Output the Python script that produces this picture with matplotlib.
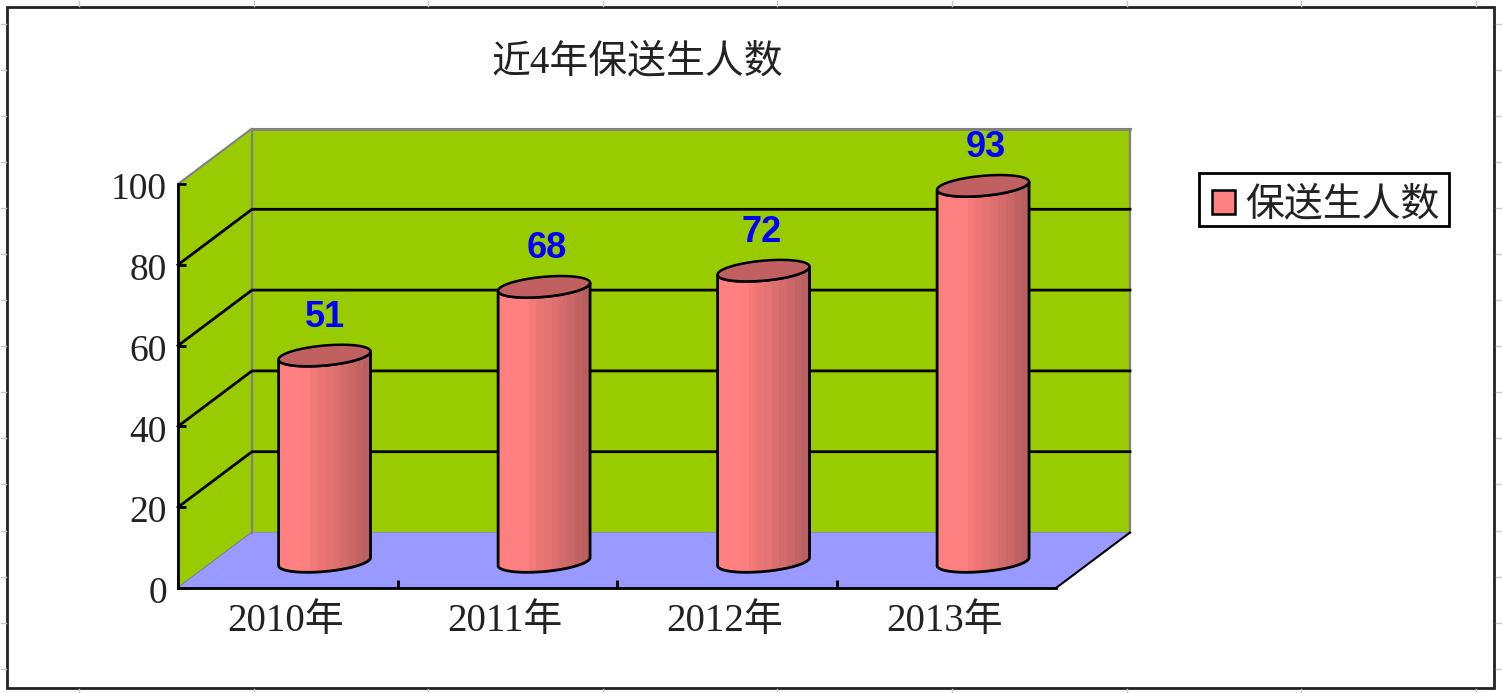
import numpy as np
import matplotlib
matplotlib.use("Agg")
import matplotlib.pyplot as plt
from matplotlib.patches import Polygon, Patch, Rectangle
from matplotlib.colors import LinearSegmentedColormap
from matplotlib.lines import Line2D
from matplotlib.transforms import ScaledTranslation

plt.rcParams['font.family'] = ['Liberation Serif', 'Noto Sans CJK SC', 'DejaVu Sans']

years = ["2010年", "2011年", "2012年", "2013年"]
students = [51, 68, 72, 93]
y_ticks = [0, 20, 40, 60, 80, 100]
title = "近4年保送生人数"
series_name = "保送生人数"

W, H = 1502, 693

fig = plt.figure(figsize=(W / 100, H / 100), dpi=100, facecolor="white")

# front plane of the fake 3d box, in pixels
left, right, top, bottom = 178, 1056, 184, 588
ax = fig.add_axes([left / W, 1 - bottom / H, (right - left) / W, (bottom - top) / H])
ax.set_xlim(0, len(years))
ax.set_ylim(0, 100)
ax.patch.set_visible(False)
for s in ['top', 'right']:
    ax.spines[s].set_visible(False)
for s in ['left', 'bottom']:
    ax.spines[s].set_linewidth(2)
    ax.spines[s].set_zorder(6)

n = len(years)
px_x = (right - left) / n
px_y = (bottom - top) / 100

# depth of the box in data units
dx = 74 / px_x
dy = 55.5 / px_y

ax.add_patch(Polygon([(dx, dy), (n + dx, dy), (n + dx, 100 + dy), (dx, 100 + dy)], closed=True,
                     facecolor="#99CC00", edgecolor="#808080", lw=1.5, clip_on=False, zorder=1))
ax.add_patch(Polygon([(0, 0), (dx, dy), (dx, 100 + dy), (0, 100)], closed=True,
                     facecolor="#99CC00", edgecolor="#808080", lw=1.5, clip_on=False, zorder=1))
ax.add_patch(Polygon([(0, 0), (n, 0), (n + dx, dy), (dx, dy)], closed=True,
                     facecolor="#9999FF", edgecolor="none", clip_on=False, zorder=1.5))
ax.plot([dx, dx], [dy, 100 + dy], color="#808080", lw=1.5, clip_on=False, zorder=2)
ax.plot([n + dx, n + dx], [dy, 100 + dy], color="#808080", lw=1.5, clip_on=False, zorder=2)
ax.plot([dx, n + dx], [100 + dy, 100 + dy], color="#808080", lw=2, clip_on=False, zorder=2)
ax.plot([n, n + dx], [0, dy], color="black", lw=1.5, clip_on=False, zorder=2)

# gridlines go along the side wall and then across the back
for v in y_ticks[1:-1]:
    ax.plot([0, dx, n + dx], [v, v + dy, v + dy], color="black", lw=2, clip_on=False, zorder=2)

# cylinders
cmap = LinearSegmentedColormap.from_list("bar", ["#FF8080", "#FF8080", "#E97575", "#D26B6B", "#B85F5F"])
bar_w = 92 / px_x
shift = 36.8 / px_x
base = 6.55
ell_b = 10 / px_y
ell_s = 4 / px_y
t = np.linspace(0, 2 * np.pi, 121)
label_nudge = [0, 3, -2, 3]  # pixels, the labels are not quite centred in the original

for i, v in enumerate(students):
    cx = i + 0.5 + shift
    ex = cx + bar_w / 2 * np.cos(t)
    ey = ell_b * np.sin(t) + ell_s * np.cos(t)
    mask = np.sin(t) <= 0
    # body outline: lower half of base ellipse, then up and across the top
    order = np.argsort(ex[mask])
    low_x, low_y = ex[mask][order], ey[mask][order] + base
    up_x = low_x[::-1]
    up_y = low_y[::-1] + v
    body = Polygon(np.column_stack([np.r_[low_x, up_x], np.r_[low_y, up_y]]), closed=True,
                   facecolor="none", edgecolor="black", lw=2, clip_on=False, zorder=4)
    ax.add_patch(body)
    im = ax.imshow(np.linspace(0, 1, 12).reshape(1, -1), cmap=cmap, aspect='auto', interpolation='nearest',
                   extent=[cx - bar_w / 2, cx + bar_w / 2, 0, v + base + 5], zorder=3)
    clip = Polygon(body.get_xy(), closed=True, transform=ax.transData)
    im.set_clip_path(clip)
    ax.add_patch(Polygon(np.column_stack([ex, ey + base + v]), closed=True, facecolor="#C06060",
                         edgecolor="black", lw=1.8, clip_on=False, zorder=5))
    ax.text(cx + label_nudge[i] / px_x, v + base + 9.4, str(v), color="#0000FF", fontsize=26, fontweight='bold',
            family=['Liberation Sans'], ha='center', va='center', zorder=6)

ax.set_xlim(0, n)
ax.set_ylim(0, 100)

ax.set_xticks(range(1, n))
ax.set_xticklabels([])
ax.tick_params(axis='x', direction='in', length=6, width=2, color='black')
ax.set_yticks(y_ticks)
ax.set_yticklabels([str(v) for v in y_ticks], fontsize=27, color="#222222", va='center')
ax.tick_params(axis='y', direction='in', length=6, width=2, color='black', pad=8)
# the y labels sit a little under their ticks in the original
down = ScaledTranslation(0, -6 / 72 * 72 / fig.dpi, fig.dpi_scale_trans)
for lab in ax.get_yticklabels():
    lab.set_transform(lab.get_transform() + down)
for i, lab in enumerate(years):
    ax.annotate(lab, (i + 0.5 - 2 / px_x, 0), xytext=(0, -11), textcoords='offset points', ha='center', va='top',
                fontsize=28, color="#222222", annotation_clip=False)

fig.text(637 / W, 1 - 63 / H, title, fontsize=28, ha='center', va='center', color="#222222")

# legend box drawn on its own so the padding can follow the original
fig.add_artist(Rectangle((1199 / W, 1 - 226 / H), 250 / W, 53 / H, transform=fig.transFigure,
                         facecolor="white", edgecolor="black", lw=2))
handle = Patch(facecolor="#FF8080", edgecolor="black", lw=1.8)
leg = fig.legend([handle], [series_name], loc='upper left', bbox_to_anchor=(1207 / W, 1 - 183 / H),
                 fontsize=28, frameon=False, borderpad=0.12, borderaxespad=0, handlelength=0.6,
                 handleheight=0.6, handletextpad=0.25, labelcolor="#222222")

# outer frame and the faint worksheet ticks around it
fig.add_artist(Rectangle((7 / W, 1 - 688 / H), 1487 / W, 681 / H, transform=fig.transFigure,
                         facecolor="none", edgecolor="#222222", lw=2))
for px in np.arange(79, W, 174.6):
    fig.add_artist(Line2D([px / W, px / W], [1 - 1 / H, 1 - 6 / H], color="#C8C8C8", lw=1))
    fig.add_artist(Line2D([px / W, px / W], [1 - 689 / H, 1 - 693 / H], color="#C8C8C8", lw=1))
for py in np.arange(23.5, H - 10, 46.1):
    fig.add_artist(Line2D([1 / W, 6 / W], [1 - py / H, 1 - py / H], color="#C8C8C8", lw=1))
    fig.add_artist(Line2D([1496 / W, 1501 / W], [1 - py / H, 1 - py / H], color="#C8C8C8", lw=1))

plt.savefig("out.png", dpi=100)
